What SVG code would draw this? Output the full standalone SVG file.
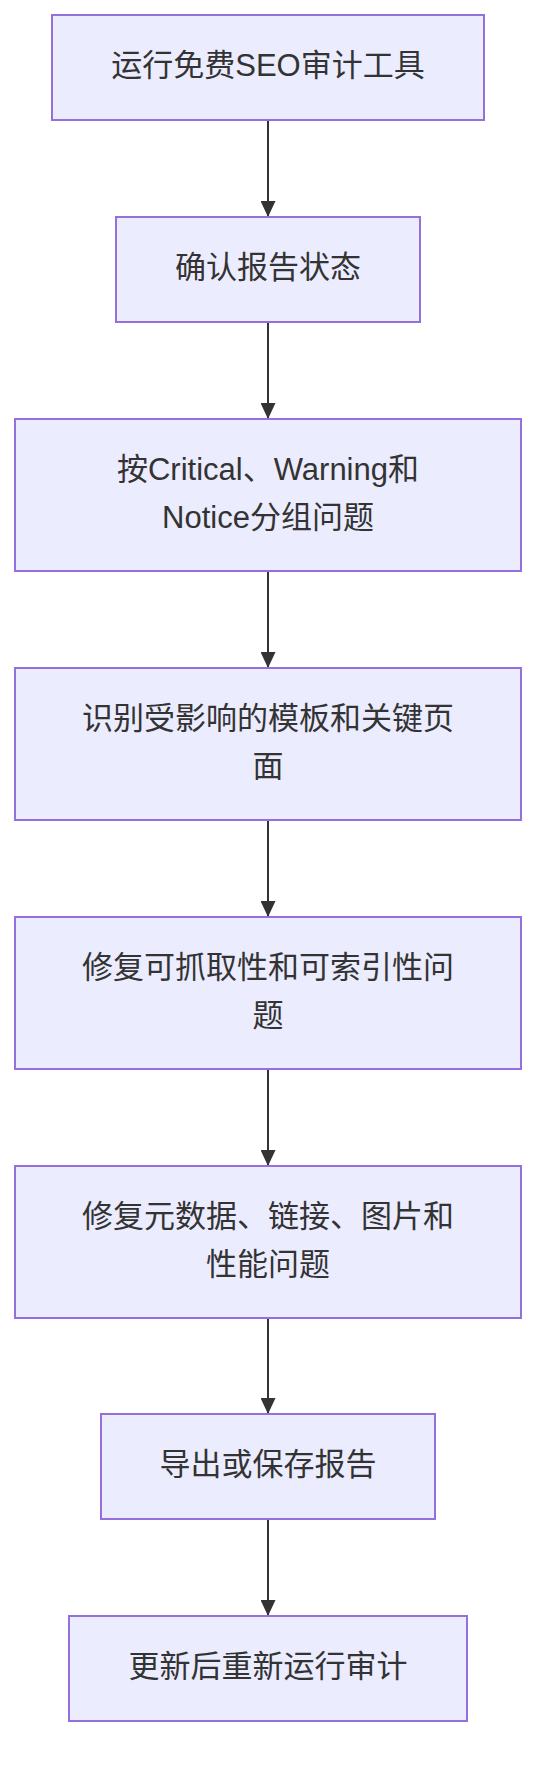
<svg xmlns="http://www.w3.org/2000/svg" width="552" height="1788" viewBox="0 0 552 1788">
<style>
.node rect{fill:#ECECFF;stroke:#9370DB;stroke-width:2}
.node text{font-family:"Liberation Sans","Noto Sans CJK SC",sans-serif;font-size:31px;fill:#333333;text-anchor:middle}
.edge{stroke:#333333;stroke-width:2;fill:none}
</style>
<defs>
<marker id="arrow" markerUnits="userSpaceOnUse" viewBox="0 0 16 15" refX="16" refY="7.5" markerWidth="16" markerHeight="15" orient="auto">
<path d="M0,0 L16,7.5 L0,15 z" fill="#333333"/>
</marker>
</defs>
<rect x="0" y="0" width="552" height="1788" fill="#ffffff"/>
<g id="connectors">
<line class="edge" x1="268" y1="120" x2="268" y2="217" marker-end="url(#arrow)"/>
<line class="edge" x1="268" y1="322" x2="268" y2="419" marker-end="url(#arrow)"/>
<line class="edge" x1="268" y1="571" x2="268" y2="668" marker-end="url(#arrow)"/>
<line class="edge" x1="268" y1="820" x2="268" y2="917" marker-end="url(#arrow)"/>
<line class="edge" x1="268" y1="1069" x2="268" y2="1166" marker-end="url(#arrow)"/>
<line class="edge" x1="268" y1="1318" x2="268" y2="1414" marker-end="url(#arrow)"/>
<line class="edge" x1="268" y1="1519" x2="268" y2="1616" marker-end="url(#arrow)"/>
</g>
<g id="n1" class="node"><rect x="52" y="15" width="432" height="105"/><text x="268" y="76">运行免费SEO审计工具</text></g>
<g id="n2" class="node"><rect x="116" y="217" width="304" height="105"/><text x="268" y="278">确认报告状态</text></g>
<g id="n3" class="node"><rect x="15" y="419" width="506" height="152"/><text x="268" y="480">按Critical、Warning和</text><text x="268" y="528">Notice分组问题</text></g>
<g id="n4" class="node"><rect x="15" y="668" width="506" height="152"/><text x="268" y="729">识别受影响的模板和关键页</text><text x="268" y="777">面</text></g>
<g id="n5" class="node"><rect x="15" y="917" width="506" height="152"/><text x="268" y="978">修复可抓取性和可索引性问</text><text x="268" y="1026">题</text></g>
<g id="n6" class="node"><rect x="15" y="1166" width="506" height="152"/><text x="268" y="1227">修复元数据、链接、图片和</text><text x="268" y="1275">性能问题</text></g>
<g id="n7" class="node"><rect x="101" y="1414" width="334" height="105"/><text x="268" y="1475">导出或保存报告</text></g>
<g id="n8" class="node"><rect x="69" y="1616" width="398" height="105"/><text x="268" y="1677">更新后重新运行审计</text></g>
</svg>
